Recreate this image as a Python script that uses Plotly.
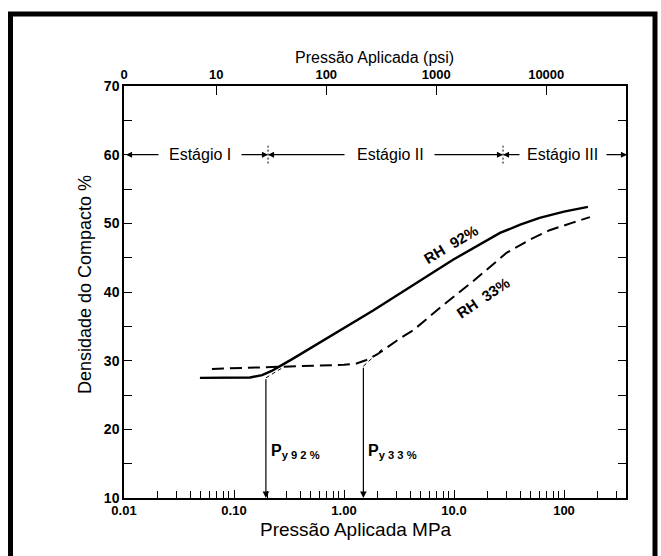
import math
import plotly.graph_objects as go

# ---- data ----
rh92_mpa = [0.049, 0.10, 0.14, 0.18, 0.22, 0.262, 0.344, 1.84, 9.8, 26.2, 40, 60, 100, 165]
rh92_dens = [27.5, 27.5, 27.55, 27.9, 28.5, 29.2, 30.3, 37.3, 44.7, 48.6, 49.8, 50.8, 51.7, 52.4]

rh33_mpa = [0.063, 0.26, 0.6, 1.0, 1.3, 1.6, 2.0, 2.5, 3.2, 4.24, 7.46, 15, 30, 50, 74, 120, 172]
rh33_dens = [28.8, 29.1, 29.3, 29.4, 29.6, 30.1, 30.9, 32.0, 33.2, 34.4, 37.7, 41.6, 45.7, 47.7, 49.0, 50.1, 50.9]

py92_mpa, py92_dens = 0.195, 27.5
py33_mpa, py33_dens = 1.5, 29.2
extrap92_mpa = [0.195, 0.291]
extrap92_dens = [27.5, 29.2]
extrap33_mpa = [1.5, 2.26]
extrap33_dens = [29.2, 31.8]

stage_bounds_mpa = [0.204, 27.9]
stage_names = ["Estágio I", "Estágio II", "Estágio III"]
stage_text_mpa = [0.049, 2.62, 97.7]
stage_y = 60

bottom_tick_vals = [0.01, 0.1, 1, 10, 100]
bottom_tick_text = ["0.01", "0.10", "1.00", "10.0", "100"]
psi_vals = [0, 10, 100, 1000, 10000]
psi_text = ["0", "10", "100", "1000", "10000"]
PSI_TO_MPA = 0.006895

y_tick_vals = list(range(10, 71, 5))
y_tick_text = [str(v) if v % 10 == 0 else "" for v in y_tick_vals]

# ---- layout geometry ----
W, H = 661, 556
L, R, T, B = 124, 35, 86, 58
PW = W - L - R
PH = H - T - B
xlog_range = [-2, -2 + PW / 110.0]


def px2log(px):
    return -2 + (px - L) / 110.0


def pxx(px):
    return (px - L) / PW


def pxy(py):
    return (H - B - py) / PH


FONT = "Liberation Sans, Arial, Helvetica, sans-serif"
NARROW = "Liberation Sans Narrow, Arial Narrow, Liberation Sans, Arial, sans-serif"

fig = go.Figure()

fig.add_trace(go.Scatter(x=rh92_mpa, y=rh92_dens, mode="lines",
                         line=dict(color="black", width=2.4),
                         showlegend=False, hoverinfo="skip"))
fig.add_trace(go.Scatter(x=rh33_mpa, y=rh33_dens, mode="lines",
                         line=dict(color="black", width=2.0, dash="12px,6px"),
                         showlegend=False, hoverinfo="skip"))
for xs, ys in [(extrap92_mpa, extrap92_dens), (extrap33_mpa, extrap33_dens)]:
    fig.add_trace(go.Scatter(x=xs, y=ys, mode="lines",
                             line=dict(color="black", width=1, dash="4px,3px"),
                             showlegend=False, hoverinfo="skip"))
# stage divider marks
for xb in stage_bounds_mpa:
    fig.add_trace(go.Scatter(x=[xb, xb], y=[stage_y - 1.3, stage_y + 1.3], mode="lines",
                             line=dict(color="black", width=1, dash="2px,2px"),
                             showlegend=False, hoverinfo="skip"))
# invisible trace for top axis
fig.add_trace(go.Scatter(x=[0.01, 300], y=[None, None], xaxis="x2", mode="lines",
                         showlegend=False, hoverinfo="skip"))

ann = []
# Py arrows
for xm, yd in [(py92_mpa, py92_dens), (py33_mpa, py33_dens)]:
    lx = math.log10(xm)
    ann.append(dict(x=lx, y=10, ax=lx, ay=yd, xref="x", yref="y", axref="x", ayref="y",
                    text="", showarrow=True, arrowhead=2, arrowsize=1.1, arrowwidth=1.2,
                    arrowcolor="black"))
ann.append(dict(x=math.log10(py92_mpa), y=16.8, xref="x", yref="y", xanchor="left",
                xshift=3, text="P<sub>y 9 2 %</sub>", showarrow=False,
                font=dict(family=FONT, size=16, color="black", weight="bold")))
ann.append(dict(x=math.log10(py33_mpa), y=16.8, xref="x", yref="y", xanchor="left",
                xshift=3, text="P<sub>y 3 3 %</sub>", showarrow=False,
                font=dict(family=FONT, size=16, color="black", weight="bold")))

# stage labels
for name, xm in zip(stage_names, stage_text_mpa):
    ann.append(dict(x=math.log10(xm), y=stage_y, xref="x", yref="y", text=name,
                    showarrow=False, font=dict(family=FONT, size=16, color="black")))
# stage arrows (pixel positions of tails and heads)
arrow_px = [(160, 126), (240, 268), (346, 268), (433, 503), (521, 503), (605, 627)]
for tail, head in arrow_px:
    ann.append(dict(x=px2log(head), y=stage_y, ax=px2log(tail), ay=stage_y,
                    xref="x", yref="y", axref="x", ayref="y", text="", showarrow=True,
                    arrowhead=2, arrowsize=1.1, arrowwidth=1.1, arrowcolor="black"))

# curve labels
ann.append(dict(x=math.log10(9.3), y=46.9, xref="x", yref="y", text="RH  92%", textangle=-31,
                showarrow=False, font=dict(family=FONT, size=15, color="black", weight="bold")))
ann.append(dict(x=math.log10(18.5), y=39.2, xref="x", yref="y", text="RH  33%", textangle=-34,
                showarrow=False, font=dict(family=FONT, size=15, color="black", weight="bold")))

# axis titles
ann.append(dict(x=pxx(374), y=pxy(47), xref="paper", yref="paper", text="Pressão Aplicada (psi)",
                showarrow=False, font=dict(family=FONT, size=16, color="black")))
ann.append(dict(x=pxx(356), y=pxy(542), xref="paper", yref="paper", text="Pressão Aplicada MPa",
                showarrow=False, font=dict(family=NARROW, size=19, color="black")))
ann.append(dict(x=pxx(73), y=pxy(285), xref="paper", yref="paper", text="Densidade do Compacto %",
                textangle=-90, showarrow=False, font=dict(family=NARROW, size=18, color="black")))

minor_vals = [m * 10 ** e for e in range(-2, 3) for m in range(2, 10) if m * 10 ** e < 360]

tickfont = dict(family=FONT, size=13, color="black", weight="bold")

fig.update_layout(
    width=W, height=H,
    margin=dict(l=L, r=R, t=T, b=B),
    paper_bgcolor="white", plot_bgcolor="white",
    annotations=ann,
    xaxis=dict(type="log", range=xlog_range, showgrid=False, zeroline=False,
               showline=True, linecolor="black", linewidth=1.5,
               tickmode="array", tickvals=bottom_tick_vals, ticktext=bottom_tick_text,
               ticks="inside", ticklen=8, tickwidth=1.2, tickcolor="black",
               minor=dict(tickmode="array", tickvals=minor_vals, ticks="inside",
                          ticklen=7, tickwidth=1, tickcolor="black", showgrid=False),
               tickfont=tickfont),
    xaxis2=dict(type="log", range=xlog_range, overlaying="x", side="top", showgrid=False,
                zeroline=False, showline=True, linecolor="black", linewidth=1.5,
                tickmode="array",
                tickvals=[0.01] + [p * PSI_TO_MPA for p in psi_vals[1:]],
                ticktext=psi_text, ticks="inside", ticklen=9, tickwidth=1.2,
                tickcolor="black", tickfont=tickfont),
    yaxis=dict(range=[10, 70], showgrid=False, zeroline=False, showline=True,
               linecolor="black", linewidth=1.5, mirror="ticks",
               tickmode="array", tickvals=y_tick_vals, ticktext=y_tick_text,
               ticks="inside", ticklen=8, tickwidth=1.2, tickcolor="black",
               tickfont=dict(family=FONT, size=14, color="black", weight="bold")),
    shapes=[dict(type="path", xref="paper", yref="paper",
                 path=f"M {pxx(10.5)},{pxy(560)} L {pxx(10.5)},{pxy(14)} L {pxx(655)},{pxy(14)} L {pxx(655)},{pxy(560)}",
                 line=dict(color="black", width=5))],
)

fig.write_html("out.html")
